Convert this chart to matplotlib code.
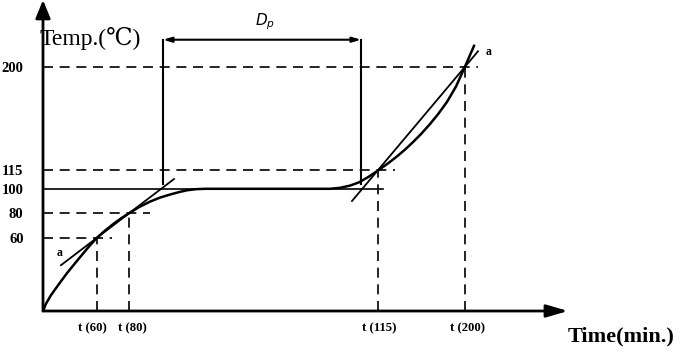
import matplotlib
matplotlib.use('Agg')
import matplotlib.pyplot as plt
import matplotlib.transforms as mtransforms

# heating curve (time in arbitrary min, temp in deg C)
curve_time = [0, 3, 8, 15, 24, 37, 46, 54, 62, 70, 78, 86, 96, 107, 117,
              127, 136, 144, 153, 162,
              287, 297, 307, 316, 326, 335, 345, 354, 362, 370, 378, 387,
              395, 404, 413, 422, 431]
curve_temp = [0, 6, 13, 21, 31, 44, 52.8, 60, 65.8, 71, 75.8, 80, 85, 89.5,
              92.8, 95.3, 97.3, 98.8, 99.7, 100,
              100, 100.8, 102.6, 105.3, 110, 115, 120.8, 126.5, 132.1, 138.2,
              144.8, 153, 161, 171.1, 183.7, 200, 217]

# marked temperatures and the times they are reached
levels = [60, 80, 115, 200]
level_times = [54, 86, 335, 422]
level_dash_end = [69, 107, 352, 435]
time_labels = ['t (60)', 't (80)', 't (115)', 't (200)']
ytick_vals = [60, 80, 100, 115, 200]

# plateau line and the two secants
plateau_temp = 100
plateau_end = 340
secant1_t = [18, 131]
secant1_T = [37.5, 108]
secant2_t = [309, 435]
secant2_T = [90, 212.5]

# D_p bracket
dp_left, dp_right = 120, 318
dp_top, dp_bottom = 222, 104

serif = ['Liberation Serif', 'DejaVu Serif', 'DejaVu Sans']

fig = plt.figure(figsize=(6.85, 3.55), dpi=100)
ax = fig.add_axes([43 / 685, 44 / 355, 642 / 685, 311 / 355])
ax.set_xlim(0, 642)
ax.set_ylim(0, 254.5)
for s in ax.spines.values():
    s.set_visible(False)

# axes with arrows
ax.annotate('', xy=(0, 254.5), xytext=(0, 0),
            arrowprops=dict(arrowstyle='-|>,head_length=1.1,head_width=0.45',
                            lw=2, color='black', shrinkA=0, shrinkB=0))
ax.annotate('', xy=(525, 0), xytext=(0, 0),
            arrowprops=dict(arrowstyle='-|>,head_length=1.3,head_width=0.38',
                            lw=2, color='black', shrinkA=0, shrinkB=0))

# dashed guide lines
dash = dict(color='black', lw=1.2, dashes=(6, 4))
for T, t, end in zip(levels, level_times, level_dash_end):
    ax.plot([0, end], [T, T], **dash)
    ax.plot([t, t], [0, T], **dash)

ax.plot([0, plateau_end], [plateau_temp, plateau_temp], color='black', lw=1.2)

# curve and secants
ax.plot(curve_time, curve_temp, color='black', lw=1.8)
ax.plot(secant1_t, secant1_T, color='black', lw=1.3)
ax.plot(secant2_t, secant2_T, color='black', lw=1.3)

# D_p bracket
ax.plot([dp_left, dp_left], [dp_bottom, dp_top], color='black', lw=1.5)
ax.plot([dp_right, dp_right], [dp_bottom, dp_top], color='black', lw=1.5)
ax.annotate('', xy=(dp_left, dp_top), xytext=(dp_right, dp_top),
            arrowprops=dict(arrowstyle='<|-|>,head_length=0.5,head_width=0.15',
                            lw=1.5, color='black', shrinkA=0, shrinkB=0))
ax.text(222, 236.5, r'$D_p$', fontsize=11, ha='center', va='center')

ax.text(17, 47.5, 'a', fontsize=8.5, fontweight='bold', family=serif,
        ha='center', va='center')
ax.text(446, 212, 'a', fontsize=8.5, fontweight='bold', family=serif,
        ha='center', va='center')

# ticks and labels
ax.set_yticks(ytick_vals, labels=[str(v) for v in ytick_vals],
              fontsize=10.5, fontweight='bold', family=serif)
ax.set_xticks(level_times, labels=time_labels,
              fontsize=9.2, fontweight='bold', family=serif)
ax.tick_params(axis='y', length=0, pad=14)
ax.tick_params(axis='x', length=0, pad=8)

# small sideways nudges so t(60) and t(80) don't run together
for lab, dx in zip(ax.get_xticklabels(), [-5, 3, 1, 2]):
    lab.set_transform(lab.get_transform() +
                      mtransforms.ScaledTranslation(dx / 100, 0, fig.dpi_scale_trans))

ax.text(-3, 223, 'Temp.(℃)', fontsize=17, family=serif, ha='left', va='center')
ax.text(525, -21, 'Time(min.)', fontsize=16, fontweight='bold', family=serif,
        ha='left', va='center')

fig.savefig('out.png', dpi=100)
